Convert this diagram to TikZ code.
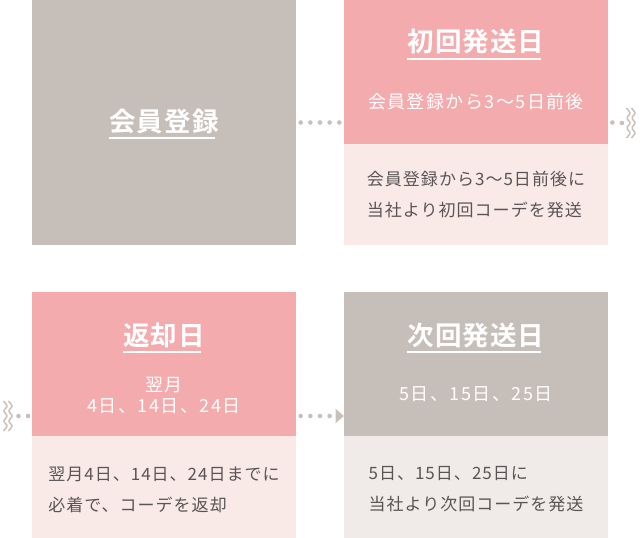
\documentclass[tikz,border=0pt]{standalone}
\usepackage{fontspec}
\setmainfont{Noto Sans CJK JP}
\newfontfamily\headfont{Noto Sans CJK JP Bold}[LetterSpace=4]
\newfontfamily\subfont{Noto Sans CJK JP}[LetterSpace=8]
\newfontfamily\bodyfont{Noto Sans CJK JP}[LetterSpace=6]
\usetikzlibrary{arrows.meta,positioning}
\definecolor{stone}{HTML}{C6BEB9}
\definecolor{rose}{HTML}{F4ABAE}
\definecolor{blush}{HTML}{F9EAE8}
\definecolor{mist}{HTML}{F0EBE8}
\definecolor{textgray}{HTML}{595556}
\definecolor{dotgray}{HTML}{C8C0BB}
\tikzset{
	box/.style={inner sep=0pt, outer sep=0pt, minimum width=264pt, anchor=north west},
	head/.style={text=white, font=\headfont\fontsize{26.5}{30}\selectfont, inner sep=0pt, anchor=base},
	sub/.style={text=white, font=\subfont\fontsize{18}{21.5}\selectfont, inner sep=0pt, align=center},
	body/.style={text=textgray, font=\bodyfont\fontsize{17}{31}\selectfont, inner sep=0pt, align=left},
	uline/.style={draw=white, line width=2pt},
	dots/.style={draw=dotgray, line width=4.6pt, line cap=round, dash pattern=on 0pt off 9.65pt},
	wave/.style={draw=dotgray, line width=1.5pt, line join=round, rounded corners=1.2pt}
}

\begin{document}
\begin{tikzpicture}[x=1pt, y=-1pt]
		\useasboundingbox (0,0) rectangle (640,538);

		% Define nodes
		\node[box, fill=stone, minimum height=245pt] (R) at (32,0) {};
		\node[box, fill=rose, minimum height=144pt] (S1) at (344,0) {};
		\node[box, fill=blush, minimum height=101pt, below=0pt of S1] (S1b) {};

		\node[box, fill=rose, minimum height=144pt] (B) at (32,292) {};
		\node[box, fill=blush, minimum height=102pt, below=0pt of B] (Bb) {};
		\node[box, fill=stone, minimum height=144pt, right=48pt of B] (N) {};
		\node[box, fill=mist, minimum height=102pt, below=0pt of N] (Nb) {};

		% Texts
		\node[head] (Rh) at (164,131) {会員登録};
		\node[head] (S1h) at (476,51.5) {初回発送日};
		\node[head] (Bh) at (164,345) {返却日};
		\node[head] (Nh) at (476,345) {次回発送日};

		\foreach \h in {Rh,S1h,Bh,Nh}
			\draw[uline] ([yshift=-7pt]\h.base west) -- ([shift={(-4pt,-7pt)}]\h.base east);

		\node[sub] (S1s) at (476,101.5) {会員登録から3〜5日前後};
		\node[sub] (Bs) at (164,395.5) {翌月\\4日、14日、24日};
		\node[sub] (Ns) at (476,394.5) {5日、15日、25日};

		\node[body] (S1t) at (476,195) {会員登録から3〜5日前後に\\当社より初回コーデを発送};
		\node[body] (Bt) at (164,489.5) {翌月4日、14日、24日までに\\必着で、コーデを返却};
		\node[body] (Nt) at (476,489.5) {5日、15日、25日に\\当社より次回コーデを発送};

		% Connect the nodes
		\coordinate (Zr) at (631,123);
		\coordinate (Zl) at (8,416);

		\draw[dots, shorten <=4.7pt, shorten >=4.5pt] (R.east) -- (R.east -| S1.west);
		\draw[dots] ([xshift=4.3pt]R.east -| S1.east) -- ([xshift=-9pt]Zr);
		\draw[dots] ([xshift=-3.9pt]Zl -| B.west) -- ([xshift=10.2pt]Zl);
		\draw[dots, -{Triangle[length=8.5pt, width=14.4pt, line width=0pt]}]
			([xshift=4.7pt]Zl -| B.east) -- (Zl -| N.west);

		% Breaks
		\foreach \dx in {-2.5,2.5} {
			\draw[wave] ([shift={(\dx-2,-15)}]Zr) -- ++(4,5) -- ++(-4,5) -- ++(4,5) -- ++(-4,5) -- ++(4,5) -- ++(-4,5);
			\draw[wave] ([shift={(\dx-2,-15)}]Zl) -- ++(4,5) -- ++(-4,5) -- ++(4,5) -- ++(-4,5) -- ++(4,5) -- ++(-4,5);
		}

\end{tikzpicture}
\end{document}
